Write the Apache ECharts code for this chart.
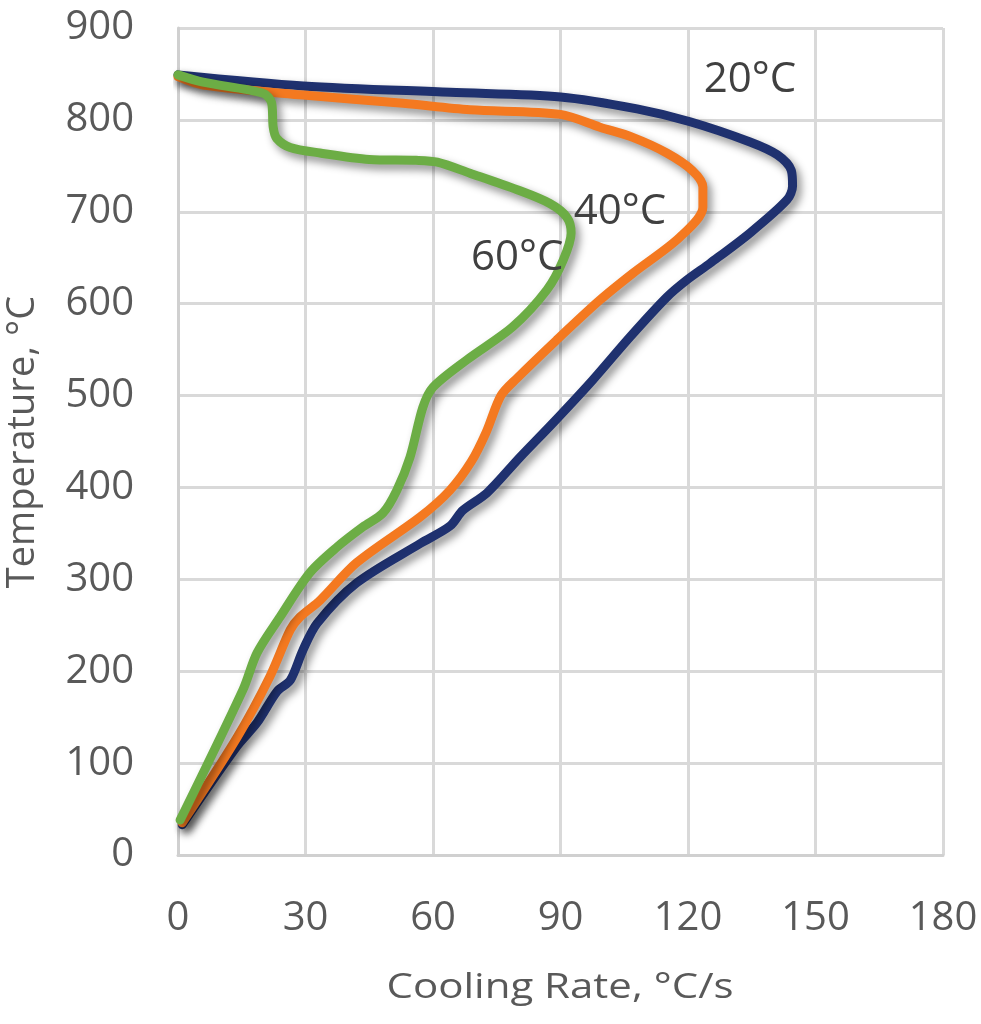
<!DOCTYPE html>
<html><head><meta charset="utf-8">
<script src="https://cdn.jsdelivr.net/npm/echarts@6/dist/echarts.min.js"></script>
<style>html,body{margin:0;padding:0;background:#fff}#c{width:981px;height:1024px}</style>
</head><body><div id="c"></div>
<script>
const xTicks = [0, 30, 60, 90, 120, 150, 180];
const yTicks = [0, 100, 200, 300, 400, 500, 600, 700, 800, 900];

const s20 = [[0,849],[29.5,837],[64,830],[90,825],[108,812],[120.5,798],[134.6,776],[141,762],[144.3,745],[144.6,728],[143.3,713],[134.6,677],[125.2,644],[119.8,626],[115,607],[106.4,564],[97.6,517],[88.2,470],[80.5,433],[72.7,394],[67,375],[64,358],[57,339],[42,296],[32.7,252],[29.4,223],[26.4,190],[23.3,178],[18.6,144],[13.8,118],[1,33]];
const s40 = [[0,847],[5.9,838],[29.5,827],[53,818],[68.7,811],[90,806],[99.3,792],[107,781],[115,764],[121,745],[123.5,727],[123.5,705],[118,672],[107,633],[99.3,604],[89,560],[79.8,519],[76,500],[72.5,460],[69,428],[64,397],[57,368],[42,318],[33.4,277],[28.7,259],[26.4,245],[21.6,194],[13.9,128],[1,35]];
const s60 = [[0,849],[5.9,841],[20,829],[22,819],[22.4,792],[23.2,780],[26.4,770],[33.4,764],[45,757],[56,756],[61,754],[68.7,742],[79.8,724],[87.5,709],[91.5,694],[92.5,677],[90.6,647],[86.8,615],[78.8,575],[68,539],[60,509],[57.6,487],[54.6,433],[51.5,397],[48.2,372],[43.5,357],[37.4,335],[31,307],[24,259],[18.6,220],[15.3,180],[0.5,38]];
const labels = [{name:'20°C', coord:[134.6,843]},{name:'40°C', coord:[104,700]},{name:'60°C', coord:[79.8,650]}];

const chart = echarts.init(document.getElementById('c'));
const font = 'Open Sans';
function ser(name, data, color, lab){
  return {
    name, type:'line', data, smooth:0.3, showSymbol:false, symbol:'none',
    lineStyle:{color, width:9, cap:'round', join:'round', shadowBlur:8, shadowColor:'rgba(0,0,0,0.45)', shadowOffsetX:4, shadowOffsetY:5},
    markPoint:{symbol:'circle', symbolSize:0, silent:true, data:[{coord:lab.coord, value:lab.name}],
      label:{show:true, formatter:lab.name, position:'inside', color:'#404040', fontSize:42, fontFamily:font}},
    z: 3
  };
}
chart.setOption({
  animation:false,
  grid:{left:178, right:38, top:28, bottom:169},
  xAxis:{type:'value', min:0, max:180, interval:30,
    axisLine:{show:true, lineStyle:{color:'#d0d0d0', width:3}}, axisTick:{show:false},
    axisLabel:{color:'#595959', fontSize:40, fontFamily:font, margin:44},
    splitLine:{show:true, lineStyle:{color:'#d9d9d9', width:3}}},
  yAxis:{type:'value', min:0, max:900, interval:100,
    axisLine:{show:true, lineStyle:{color:'#d0d0d0', width:3}}, axisTick:{show:false},
    axisLabel:{color:'#595959', fontSize:40, fontFamily:font, margin:44},
    splitLine:{show:true, lineStyle:{color:'#d9d9d9', width:3}}},
  graphic:[
    {type:'text', x:560, y:988, scaleX:1.2, style:{text:'Cooling Rate, °C/s', fontSize:35, fontFamily:font, fill:'#595959', align:'center', verticalAlign:'middle'}},
    {type:'text', x:23, y:442, rotation:Math.PI/2, style:{text:'Temperature, °C', fontSize:38, fontFamily:font, fill:'#595959', align:'center', verticalAlign:'middle'}}
  ],
  series:[ser('20°C', s20, '#1f316f', labels[0]), ser('40°C', s40, '#f47920', labels[1]), ser('60°C', s60, '#6cad45', labels[2])]
});
</script></body></html>
